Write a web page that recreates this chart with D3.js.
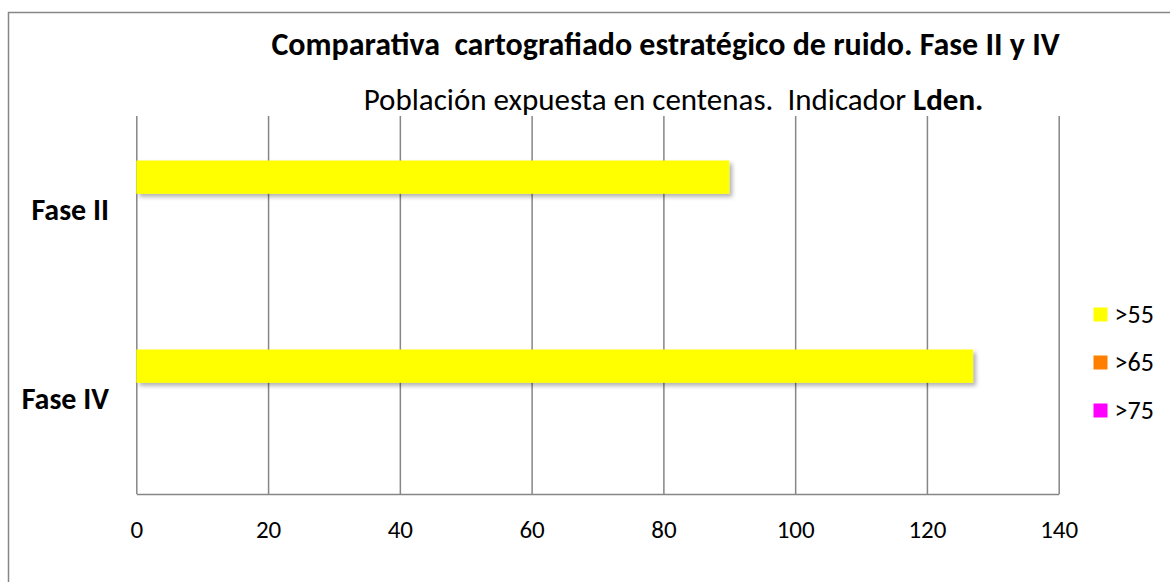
<html lang="es">
<head>
<meta charset="UTF-8">
<title>Comparativa cartografiado estratégico de ruido</title>
<script src="https://d3js.org/d3.v7.min.js"></script>
<style>
  body { margin: 0; background: #fff; }
  text { font-family: Carlito, Calibri, Lato, sans-serif; }
</style>
</head>
<body>
<div id="chart"></div>
<script>
// data (población en centenas, Lden)
const categories = ["Fase II", "Fase IV"];
const seriesNames = [">55", ">65", ">75"];
const seriesColors = ["#FFFF00", "#FF8000", "#FF00FF"];
const values55 = [90, 127];
const values65 = [0, 0];
const values75 = [0, 0];
const xTicks = [0, 20, 40, 60, 80, 100, 120, 140];

const seriesValues = [values55, values65, values75];

const width = 1170, height = 582;
const plotLeft = 136.3, plotRight = 1058.7, plotTop = 116, plotBottom = 494;

const svg = d3.select("#chart")
  .append("svg")
  .attr("width", width)
  .attr("height", height);

const defs = svg.append("defs");
defs.append("filter")
  .attr("id", "shadow")
  .attr("x", "-5%").attr("y", "-30%")
  .attr("width", "110%").attr("height", "180%")
  .append("feDropShadow")
  .attr("dx", 3).attr("dy", 3)
  .attr("stdDeviation", 2)
  .attr("flood-color", "#000")
  .attr("flood-opacity", 0.3);

// outer frame (cut by the picture on the right and bottom)
svg.append("rect")
  .attr("x", 8.5).attr("y", 12.5)
  .attr("width", 1200).attr("height", 620)
  .attr("fill", "#fff")
  .attr("stroke", "#868686")
  .attr("stroke-width", 1.5);

const x = d3.scaleLinear().domain([0, 140]).range([plotLeft, plotRight]);

const y0 = d3.scaleBand().domain(categories).range([plotTop, plotBottom]);

const y1 = d3.scaleBand()
  .domain(seriesNames)
  .range([0, y0.bandwidth()])
  .paddingInner(0)
  .paddingOuter(1.335);

// gridlines + axis
const xAxis = svg.append("g")
  .attr("transform", `translate(0, ${plotBottom})`)
  .call(d3.axisBottom(x)
    .tickValues(xTicks)
    .tickSize(-(plotBottom - plotTop))
    .tickSizeOuter(0)
    .tickFormat(d3.format("d")));

xAxis.select(".domain")
  .attr("stroke", "#868686")
  .attr("stroke-width", 1.5);

xAxis.selectAll(".tick line")
  .attr("stroke", "#868686")
  .attr("stroke-width", 1.5);

xAxis.selectAll(".tick text")
  .attr("y", 44)
  .attr("dy", null)
  .attr("fill", "#000")
  .style("font-size", "25px");

// bars
const groups = svg.append("g")
  .selectAll("g")
  .data(categories)
  .join("g")
  .attr("transform", d => `translate(0, ${y0(d)})`);

groups.selectAll("rect")
  .data((d, i) => seriesNames.map((s, j) => ({ s: s, v: seriesValues[j][i], c: seriesColors[j] })))
  .join("rect")
  .attr("x", x(0))
  .attr("y", d => y1(d.s))
  .attr("width", d => x(d.v) - x(0))
  .attr("height", y1.bandwidth())
  .attr("fill", d => d.c)
  .attr("filter", d => d.v > 0 ? "url(#shadow)" : null);

// category labels
svg.append("g")
  .selectAll("text")
  .data(categories)
  .join("text")
  .attr("x", 109)
  .attr("y", d => y0(d) + y0.bandwidth() / 2 + 9)
  .attr("text-anchor", "end")
  .style("font-size", "30px")
  .style("font-weight", "bold")
  .text(d => d);

// titles
svg.append("text")
  .attr("x", 665.5)
  .attr("y", 55)
  .attr("text-anchor", "middle")
  .style("font-size", "32px")
  .style("font-weight", "bold")
  .text("Comparativa\u00a0 cartografiado estratégico de ruido. Fase II y IV");

const sub = svg.append("text")
  .attr("x", 673.5)
  .attr("y", 110)
  .attr("text-anchor", "middle")
  .style("font-size", "31px");
sub.append("tspan").text("Población expuesta en centenas.\u00a0 Indicador ");
sub.append("tspan").style("font-weight", "bold").text("Lden.");

// legend
const legend = svg.append("g")
  .selectAll("g")
  .data(seriesNames)
  .join("g")
  .attr("transform", (d, i) => `translate(1093.5, ${307.5 + i * 48})`);

legend.append("rect")
  .attr("width", 14)
  .attr("height", 14)
  .attr("fill", (d, i) => seriesColors[i]);

legend.append("text")
  .attr("x", 21)
  .attr("y", 15.5)
  .style("font-size", "26px")
  .text(d => d);
</script>
</body>
</html>
